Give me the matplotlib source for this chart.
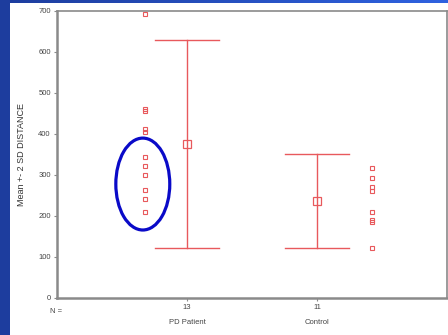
import numpy as np
import matplotlib
matplotlib.use("Agg")
import matplotlib.pyplot as plt
from matplotlib.patches import Ellipse, Rectangle

plt.rcParams['font.family'] = ['Liberation Sans', 'DejaVu Sans']

# ---------- DATA ----------
groups = ["PD Patient", "Control"]
n_labels = ["13", "11"]
pd_points = [691, 460, 455, 410, 405, 343, 321, 299, 263, 241, 209]
ctrl_points = [317, 292, 270, 260, 209, 189, 184, 121]
means = [375, 236]
two_sd = [253, 114]
yticks = [0, 100, 200, 300, 400, 500, 600, 700]

red = '#e8595c'
gray = '#8a8a8a'

fig = plt.figure(figsize=(4.48, 3.35), dpi=100)
fig.patch.set_facecolor('white')

# slide background strips
fig.patches.append(Rectangle((0, 0), 10 / 448, 1, transform=fig.transFigure,
                             facecolor='#1d3d9e', edgecolor='none', zorder=0))
grad = np.linspace(0, 1, 256).reshape(1, -1)
bax = fig.add_axes([0, 1 - 3 / 335, 1, 3 / 335])
bax.imshow(grad, aspect='auto', cmap=matplotlib.colors.LinearSegmentedColormap.from_list(
    'b', ['#1d3d9e', '#2f62e0']))
bax.axis('off')

ax = fig.add_axes([57 / 448, 1 - 297.7 / 335, 390 / 448, 287.2 / 335])
ax.set_xlim(0, 3)
ax.set_ylim(0, 700)

# individual points
ax.plot(np.full(len(pd_points), 1 - 0.32), pd_points, 's', ms=3.2,
        mfc='none', mec=red, mew=0.8, linestyle='none')
ax.plot(np.full(len(ctrl_points), 2 + 0.42), ctrl_points, 's', ms=3.2,
        mfc='none', mec=red, mew=0.8, linestyle='none')

# mean +- 2 SD
for i, (m, s) in enumerate(zip(means, two_sd)):
    x = i + 1
    ax.plot([x, x], [m - s, m + s], color=red, lw=1.0)
    ax.plot([x - 0.245, x + 0.245], [m + s, m + s], color=red, lw=1.0)
    ax.plot([x - 0.245, x + 0.245], [m - s, m - s], color=red, lw=1.0)
    ax.plot(x, m, 's', ms=6, mfc='none', mec=red, mew=0.9)

# highlight ellipse
ax.add_patch(Ellipse((0.66, 277), 0.415, 224, fill=False,
                     edgecolor='#0a0ac8', lw=2.3, clip_on=False))

ax.set_yticks(yticks)
ax.set_xticks([1, 2])
ax.set_xticklabels(n_labels)
ax.tick_params(axis='both', labelsize=5.5, colors='#444444', length=2.5,
               width=0.8, pad=2)
ax.tick_params(axis='both', color=gray)
for sp in ['left', 'bottom']:
    ax.spines[sp].set_color(gray)
    ax.spines[sp].set_linewidth(1.8)
for sp in ['top', 'right']:
    ax.spines[sp].set_color(gray)
    ax.spines[sp].set_linewidth(1.2)

ax.set_ylabel('Mean +- 2 SD DISTANCE', fontsize=6.5, color='#333333', labelpad=9)
ax.text(-0.018, -0.035, 'N =', transform=ax.transAxes, fontsize=5.5,
        color='#444444', ha='left', va='top')
for i, g in enumerate(groups):
    ax.text(i + 1, -60, g, fontsize=5.5, color='#444444', ha='center', va='center')

fig.savefig('out.png', dpi=100)
